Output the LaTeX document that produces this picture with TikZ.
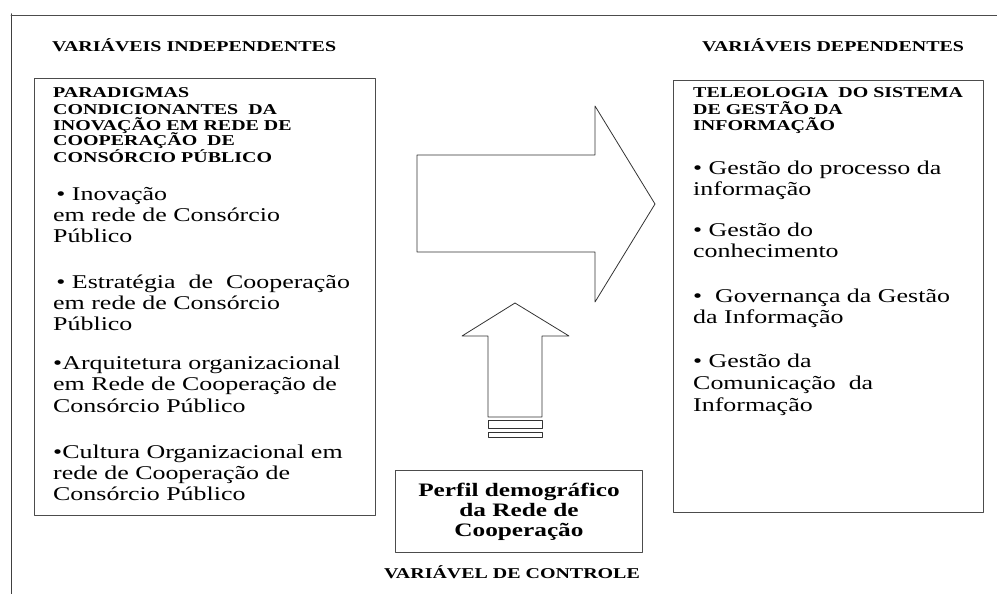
\documentclass[tikz,border=0pt]{standalone}
\usepackage{fontspec}
\setmainfont{Liberation Serif}[FakeStretch=1.33]
\usepackage{tikz}

\begin{document}
\begin{tikzpicture}[line cap=round,line join=round,x=1pt,y=-1pt,
  frame/.style={draw=black!70,line width=0.9pt,inner sep=0pt,anchor=north west},
  shp/.style={draw=black!80,line width=0.8pt},
  title/.style={font=\fontsize{15}{16}\selectfont\bfseries,inner sep=0pt,anchor=base west},
  head/.style={font=\fontsize{15}{16}\selectfont\bfseries,inner sep=0pt,anchor=base west},
  item/.style={font=\fontsize{19.5}{21}\selectfont,inner sep=0pt,anchor=base west}]
\useasboundingbox (0,0) rectangle (997,594);
% moldura
\draw[black!75,line width=1.5pt] (11.5,14) -- (11.5,594);
\draw[black!70,line width=0.9pt] (11,15) -- (997,15);
% caixas
\node[frame,minimum width=341pt,minimum height=437pt] (indep) at (34,78) {};
\node[frame,minimum width=310pt,minimum height=432pt] (dep) at (673,80) {};
\node[frame,minimum width=247pt,minimum height=82pt] (perfil) at (395,470) {};
\node[title] (tindep) at (52,52) {VARIÁVEIS INDEPENDENTES};
\node[title] (tdep) at (702,52) {VARIÁVEIS DEPENDENTES};
\node[title,anchor=base] (tctrl) at (512,578) {VARIÁVEL DE CONTROLE};
\node[font=\fontsize{19}{20}\selectfont\bfseries,align=center,inner sep=0pt] (tperfil) at (perfil.center) {Perfil demográfico\\da Rede de\\Cooperação};
% textos das caixas
\foreach \t [count=\i] in {PARADIGMAS,CONDICIONANTES\ \ DA,INOVAÇÃO EM REDE DE,COOPERAÇÃO\ \ DE,CONSÓRCIO PÚBLICO}
\node[head] (ph\i) at (53,{98+16*(\i-1)}) {\t};
\foreach \t [count=\i] in {TELEOLOGIA\ \ DO SISTEMA,DE GESTÃO DA,INFORMAÇÃO}
\node[head] (dh\i) at (693,{98+16.5*(\i-1)}) {\t};
\foreach \y/\t [count=\i] in {200/{\,• Inovação},221/em rede de Consórcio,242/Público,
  288/{\,• Estratégia\ \ de\ \ Cooperação},309/em rede de Consórcio,330/Público,
  369/•Arquitetura organizacional,390/em Rede de Cooperação de,412/Consórcio Público,
  458/•Cultura Organizacional em,479/rede de Cooperação de,500/Consórcio Público}
\node[item] (pi\i) at (53,\y) {\t};
\foreach \y/\t [count=\i] in {174/{• Gestão do processo da},195/informação,
  236/{• Gestão do},257/conhecimento,
  302/{•\ \ Governança da Gestão},323/da Informação,
  367/{• Gestão da},389/Comunicação\ \ da,411/Informação}
\node[item] (di\i) at (693,\y) {\t};
% setas
\draw[shp] (417,155) -- (595,155) -- (595,106) -- (655,204) -- (595,302) -- (595,252) -- (417,252) -- cycle;
\draw[shp] (488,417) -- (488,336) -- (462,336) -- (515,303) -- (569,336) -- (542,336) -- (542,417) -- cycle;
\draw[shp] (488,420) rectangle (542,428);
\draw[shp] (488,432) rectangle (542,437);
\end{tikzpicture}
\end{document}
